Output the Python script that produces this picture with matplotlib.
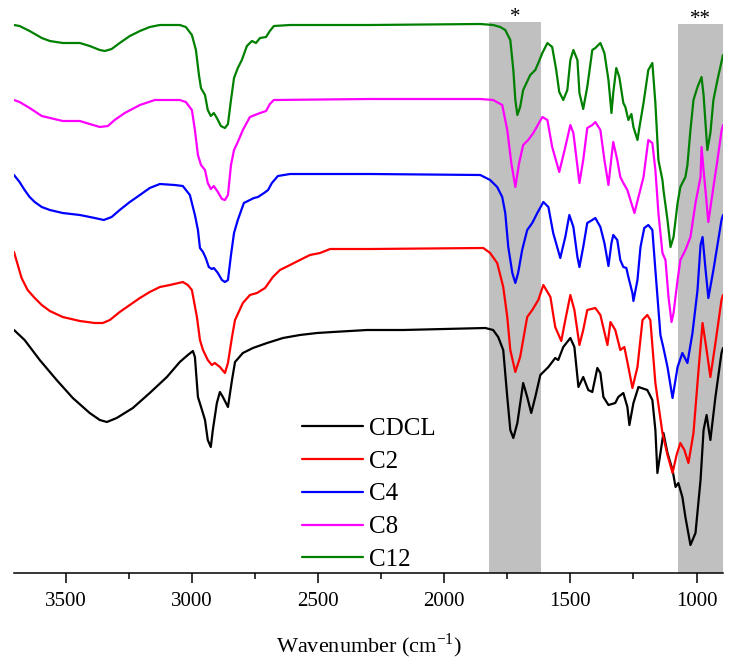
import matplotlib
matplotlib.use('Agg')
import matplotlib.pyplot as plt
import numpy as np
from matplotlib.ticker import MultipleLocator

plt.rcParams['font.family'] = 'Liberation Serif'
plt.rcParams['mathtext.fontset'] = 'custom'
plt.rcParams['mathtext.rm'] = 'Liberation Serif'

# spectra: (wavenumber cm-1, stacked transmittance a.u.)
cdcl = [(3705, 270), (3663, 260), (3603, 240), (3536, 220), (3472, 202), (3405, 187), (3365, 180),
        (3337, 178), (3298, 182), (3234, 192), (3167, 207), (3099, 223), (3048, 238), (3016, 245),
        (2996, 249), (2988, 243), (2976, 203), (2960, 190), (2948, 180), (2937, 160), (2925, 153),
        (2917, 170), (2901, 197), (2889, 208), (2877, 203), (2857, 193), (2841, 220), (2829, 238),
        (2798, 247), (2758, 252), (2702, 257), (2639, 262), (2572, 265), (2504, 267), (2441, 268),
        (2306, 270), (2163, 270), (1837, 272), (1806, 270), (1786, 263), (1766, 250), (1750, 203),
        (1738, 170), (1726, 162), (1710, 177), (1687, 217), (1671, 203), (1655, 187), (1639, 203),
        (1619, 225), (1587, 233), (1560, 242), (1548, 240), (1528, 253), (1500, 262), (1484, 253),
        (1468, 213), (1449, 223), (1429, 210), (1413, 208), (1393, 232), (1381, 227), (1369, 203),
        (1349, 195), (1322, 197), (1310, 203), (1290, 207), (1274, 193), (1266, 175), (1250, 197),
        (1230, 213), (1195, 210), (1175, 200), (1163, 170), (1155, 127), (1143, 147), (1131, 167),
        (1115, 147), (1095, 130), (1083, 113), (1072, 117), (1056, 103), (1044, 83), (1024, 55),
        (1004, 67), (984, 120), (972, 170), (960, 185), (953, 173), (945, 160), (925, 203),
        (901, 247), (895, 252)]

c2 = [(3705, 348), (3690, 335), (3675, 322), (3651, 310), (3623, 302), (3595, 295), (3563, 289),
      (3512, 283), (3444, 279), (3385, 277), (3353, 277), (3325, 280), (3286, 288), (3246, 295),
      (3206, 302), (3167, 308), (3127, 313), (3087, 315), (3036, 318), (3016, 315), (3000, 310),
      (2980, 283), (2968, 260), (2956, 250), (2937, 240), (2921, 235), (2909, 237), (2889, 233),
      (2869, 227), (2857, 237), (2841, 263), (2829, 280), (2798, 297), (2770, 305), (2742, 307),
      (2710, 312), (2679, 323), (2651, 330), (2611, 335), (2572, 340), (2532, 345), (2492, 347),
      (2452, 351), (2294, 351), (1845, 352), (1818, 347), (1790, 337), (1766, 313), (1750, 283),
      (1738, 250), (1718, 228), (1699, 243), (1671, 283), (1651, 290), (1627, 300), (1607, 315),
      (1579, 303), (1560, 273), (1536, 259), (1520, 280), (1500, 305), (1484, 290), (1464, 255),
      (1449, 270), (1433, 290), (1401, 292), (1381, 285), (1353, 255), (1341, 278), (1322, 270),
      (1302, 250), (1286, 253), (1270, 233), (1254, 212), (1234, 233), (1214, 280), (1195, 285),
      (1183, 280), (1163, 217), (1135, 167), (1115, 145), (1095, 127), (1079, 145), (1064, 157),
      (1048, 150), (1032, 137), (1012, 167), (992, 230), (976, 277), (960, 250), (945, 223),
      (925, 257), (901, 300), (895, 305)]

c4 = [(3705, 425), (3683, 418), (3663, 410), (3643, 403), (3623, 398), (3595, 393), (3563, 390),
      (3512, 387), (3444, 385), (3385, 382), (3349, 380), (3318, 383), (3286, 390), (3246, 398),
      (3206, 405), (3167, 412), (3127, 416), (3068, 415), (3036, 414), (3008, 405), (2988, 385),
      (2976, 370), (2968, 352), (2956, 348), (2945, 342), (2933, 333), (2921, 331), (2913, 332),
      (2897, 327), (2881, 320), (2869, 318), (2857, 320), (2845, 345), (2833, 367), (2818, 380),
      (2794, 397), (2770, 400), (2754, 402), (2738, 403), (2714, 407), (2698, 410), (2683, 417),
      (2659, 424), (2611, 426), (2294, 426), (1857, 425), (1818, 420), (1790, 413), (1770, 403),
      (1758, 387), (1746, 353), (1730, 327), (1718, 317), (1707, 327), (1691, 350), (1671, 370),
      (1651, 377), (1631, 387), (1607, 398), (1587, 393), (1568, 367), (1540, 342), (1520, 363),
      (1504, 385), (1488, 373), (1472, 343), (1464, 333), (1449, 353), (1433, 377), (1413, 380),
      (1401, 382), (1381, 373), (1365, 357), (1349, 334), (1337, 357), (1330, 365), (1314, 360),
      (1302, 340), (1290, 333), (1278, 332), (1270, 323), (1254, 307), (1250, 299), (1234, 320),
      (1222, 353), (1207, 372), (1191, 375), (1175, 370), (1163, 330), (1143, 265), (1131, 252),
      (1115, 233), (1095, 202), (1075, 233), (1056, 247), (1036, 237), (1016, 267), (996, 310),
      (984, 355), (976, 363), (964, 330), (953, 302), (933, 330), (901, 380), (895, 385)]

c8 = [(3705, 500), (3683, 498), (3643, 492), (3595, 484), (3512, 479), (3444, 479), (3405, 476),
      (3365, 473), (3333, 474), (3306, 480), (3266, 487), (3206, 495), (3147, 500), (3048, 500),
      (3024, 498), (3000, 490), (2988, 470), (2976, 445), (2964, 435), (2948, 430), (2937, 417),
      (2925, 411), (2913, 414), (2897, 408), (2881, 401), (2869, 400), (2857, 405), (2845, 435),
      (2833, 450), (2818, 458), (2798, 470), (2770, 483), (2750, 485), (2730, 487), (2706, 489),
      (2691, 496), (2675, 500), (2294, 501), (1857, 501), (1806, 500), (1770, 495), (1750, 470),
      (1734, 437), (1718, 413), (1703, 437), (1687, 455), (1667, 460), (1647, 467), (1611, 483),
      (1591, 480), (1572, 453), (1544, 428), (1520, 453), (1500, 475), (1488, 467), (1464, 417),
      (1449, 440), (1433, 472), (1413, 475), (1401, 478), (1381, 470), (1365, 440), (1349, 415),
      (1337, 443), (1330, 458), (1314, 440), (1302, 423), (1290, 417), (1274, 410), (1262, 400),
      (1246, 387), (1230, 403), (1210, 423), (1191, 460), (1175, 457), (1163, 430), (1151, 387),
      (1135, 347), (1123, 340), (1111, 303), (1099, 278), (1091, 287), (1075, 320), (1064, 340),
      (1044, 350), (1024, 363), (1004, 397), (984, 423), (980, 453), (972, 430), (953, 378),
      (933, 413), (917, 440), (901, 469), (895, 475)]

c12 = [(3705, 575), (3683, 574), (3643, 569), (3595, 562), (3563, 559), (3512, 557), (3444, 557),
       (3405, 554), (3365, 550), (3345, 549), (3318, 551), (3286, 557), (3246, 564), (3206, 569),
       (3167, 573), (3127, 575), (3048, 575), (3024, 573), (3000, 565), (2984, 550), (2972, 525),
       (2964, 512), (2948, 505), (2937, 490), (2925, 484), (2913, 487), (2901, 482), (2885, 474),
       (2869, 472), (2857, 476), (2845, 500), (2833, 522), (2818, 532), (2802, 540), (2782, 554),
       (2762, 559), (2746, 557), (2730, 562), (2706, 563), (2691, 569), (2675, 574), (2611, 575),
       (2294, 575), (1857, 576), (1806, 575), (1778, 573), (1758, 570), (1738, 560), (1726, 530),
       (1718, 500), (1710, 485), (1699, 493), (1687, 510), (1659, 525), (1639, 530), (1627, 537),
       (1611, 547), (1591, 557), (1572, 553), (1556, 530), (1544, 508), (1528, 500), (1512, 510),
       (1500, 540), (1488, 550), (1472, 540), (1464, 507), (1449, 491), (1433, 513), (1413, 550),
       (1401, 552), (1381, 557), (1365, 547), (1349, 520), (1337, 487), (1330, 507), (1318, 532),
       (1306, 523), (1290, 497), (1282, 493), (1270, 480), (1258, 486), (1250, 473), (1234, 460),
       (1226, 473), (1210, 497), (1191, 530), (1175, 537), (1163, 497), (1151, 440), (1135, 420),
       (1131, 410), (1115, 380), (1103, 353), (1091, 363), (1075, 397), (1064, 413), (1044, 423),
       (1036, 435), (1024, 470), (1012, 500), (996, 513), (980, 523), (972, 505), (957, 450),
       (945, 467), (933, 500), (917, 520), (895, 545)]

labels = ['CDCL', 'C2', 'C4', 'C8', 'C12']
colors = ['black', '#ff0000', '#0000ff', '#ff00ff', '#008000']
bands = [(1822, 1615, 578, '*'), (1073, 895, 576, '**')]

fig = plt.figure(figsize=(7.39, 6.69), dpi=100)
ax = fig.add_axes([14/739, 96/669, 709/739, 565/669])

for lo, hi, top, mark in bands:
    ax.fill_between([lo, hi], 27, top, color='#c0c0c0', lw=0, zorder=0)
    ax.text((lo + hi) / 2, top - 5, mark, ha='center', va='bottom', fontsize=15)

for spec, lab, col in zip([cdcl, c2, c4, c8, c12], labels, colors):
    wn, t = np.array(spec).T
    ax.plot(wn, t, color=col, lw=1.6, label=lab, solid_joinstyle='round', solid_capstyle='round')

ax.set_xlim(3705, 895)
ax.set_ylim(27, 592)
ax.xaxis.set_major_locator(MultipleLocator(500))
ax.xaxis.set_minor_locator(MultipleLocator(250))
ax.set_yticks([])
for s in ['left', 'right', 'top']:
    ax.spines[s].set_visible(False)
ax.spines['bottom'].set_linewidth(1.1)
ax.tick_params(axis='x', which='major', direction='out', length=7, width=1.1, labelsize=15, pad=7)
ax.tick_params(axis='x', which='minor', direction='out', length=4, width=1.1)
ax.set_xlabel('Wavenumber (cm$^{\\mathregular{-1}}$)', fontsize=16, labelpad=14)

ax.legend(loc='lower left', bbox_to_anchor=(302/739, 98/669), bbox_transform=fig.transFigure,
          frameon=False, fontsize=18, handlelength=2.45, handletextpad=0.25,
          labelspacing=0.41, borderpad=0, borderaxespad=0)

fig.savefig('out.png', dpi=100)
